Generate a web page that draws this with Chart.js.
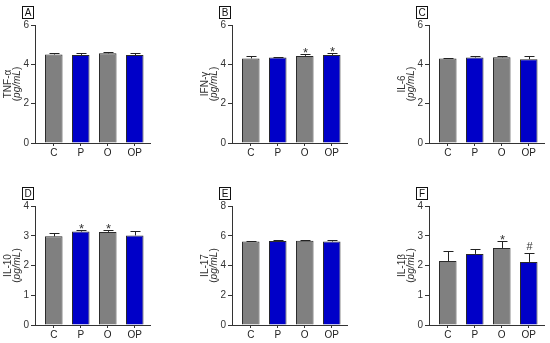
<!DOCTYPE html>
<html>
<head>
<meta charset="utf-8">
<script src="https://cdn.jsdelivr.net/npm/chart.js@4"></script>
<style>
  html, body { margin: 0; padding: 0; background: #fff; }
  body { width: 550px; height: 343px; position: relative; overflow: hidden; }
  canvas { position: absolute; }
</style>
</head>
<body>
<script>
// groupes
const categories = ['C', 'P', 'O', 'OP'];
const barColors = ['#808080', '#0000c8', '#808080', '#0000c8'];

// valeurs (moyenne + erreur)
const tnfMean = [4.50, 4.48, 4.56, 4.47];
const tnfErr = [0.06, 0.08, 0.09, 0.13];
const tnfMarks = ['', '', '', ''];

const ifnMean = [4.30, 4.35, 4.43, 4.48];
const ifnErr = [0.12, 0.04, 0.10, 0.08];
const ifnMarks = ['', '', '*', '*'];

const il6Mean = [4.30, 4.35, 4.36, 4.26];
const il6Err = [0.04, 0.06, 0.07, 0.15];
const il6Marks = ['', '', '', ''];

const il10Mean = [2.98, 3.14, 3.13, 3.01];
const il10Err = [0.11, 0.06, 0.05, 0.16];
const il10Marks = ['', '*', '*', ''];

const il17Mean = [5.62, 5.64, 5.67, 5.61];
const il17Err = [0.06, 0.06, 0.06, 0.12];
const il17Marks = ['', '', '', ''];

const il1bMean = [2.15, 2.39, 2.59, 2.12];
const il1bErr = [0.33, 0.18, 0.22, 0.30];
const il1bMarks = ['', '', '*', '#'];

const FONT = "'Liberation Sans', Arial, sans-serif";
const AXIS = '#333';

// position des panneaux
const CANVAS_W = 190;
const Y_W = 45;      // largeur de l'axe y dans le canvas
const AREA_W = 115;  // largeur de la zone de tracé
const rows = [
    { top: 0, height: 170, areaTop: 25, areaBottom: 143 },
    { top: 172, height: 171, areaTop: 206, areaBottom: 325 }
];
const cols = [35, 232, 429];

// barres d'erreur, étoiles, titre d'axe et lettre
const extrasPlugin = {
    id: 'extras',
    afterDatasetsDraw(chart, args, opts) {
        const ctx = chart.ctx;
        const xs = chart.scales.x, ys = chart.scales.y;
        ctx.save();
        ctx.strokeStyle = '#222';
        ctx.lineWidth = 1;
        opts.mean.forEach((m, i) => {
            const x = Math.round(xs.getPixelForValue(i)) + 0.5;
            const yb = ys.getPixelForValue(m);
            const yt = Math.round(ys.getPixelForValue(m + opts.err[i])) + 0.5;
            ctx.beginPath();
            ctx.moveTo(x, yb);
            ctx.lineTo(x, yt);
            ctx.moveTo(x - 5, yt);
            ctx.lineTo(x + 5, yt);
            ctx.stroke();
            if (opts.marks[i]) {
                ctx.fillStyle = '#333';
                ctx.font = (opts.marks[i] === '*' ? '13px ' : '11px ') + FONT;
                ctx.textAlign = 'center';
                ctx.textBaseline = 'bottom';
                ctx.fillText(opts.marks[i], x, yt + (opts.marks[i] === '*' ? 5 : -1));
            }
        });
        ctx.restore();
    },
    afterDraw(chart, args, opts) {
        const ctx = chart.ctx;
        const area = chart.chartArea;
        const midY = (area.top + area.bottom) / 2;
        ctx.save();
        ctx.fillStyle = '#333';
        // titre en deux lignes, tourné
        ctx.translate(area.left - 27, midY);
        ctx.rotate(-Math.PI / 2);
        ctx.textBaseline = 'middle';
        ctx.textAlign = 'center';
        ctx.font = '10px ' + FONT;
        ctx.fillText(opts.title, 0, 0);
        const normal = '10px ' + FONT, italic = 'italic 10px ' + FONT;
        ctx.font = normal;
        const wp = ctx.measureText('(').width;
        const wc = ctx.measureText(')').width;
        ctx.font = italic;
        const wu = ctx.measureText('pg/mL').width;
        let x0 = -(wp + wu + wc) / 2;
        ctx.textAlign = 'left';
        ctx.font = normal;
        ctx.fillText('(', x0, 9);
        ctx.font = italic;
        ctx.fillText('pg/mL', x0 + wp, 9);
        ctx.font = normal;
        ctx.fillText(')', x0 + wp + wu, 9);
        ctx.restore();

        // lettre du panneau
        ctx.save();
        const bx = area.left - 12.5, by = area.top - 18.5;
        ctx.strokeStyle = '#111';
        ctx.lineWidth = 1;
        ctx.strokeRect(bx, by, 11, 12);
        ctx.fillStyle = '#111';
        ctx.font = '10px ' + FONT;
        ctx.textAlign = 'center';
        ctx.textBaseline = 'middle';
        ctx.fillText(opts.letter, bx + 5.5, by + 6.5);
        ctx.restore();
    }
};

function makePanel(p) {
    const row = rows[p.row];
    const axisX = cols[p.col];
    const canvas = document.createElement('canvas');
    canvas.width = CANVAS_W;
    canvas.height = row.height;
    canvas.style.left = (axisX - Y_W) + 'px';
    canvas.style.top = row.top + 'px';
    document.body.appendChild(canvas);

    const xHeight = row.height - (row.areaBottom - row.top);
    // centres des barres à 18.75 px de l'axe, pas de 27 px
    const xMin = -18.75 / 27;
    const xMax = (AREA_W - 18.75) / 27;

    new Chart(canvas, {
        type: 'bar',
        data: {
            datasets: [{
                data: p.mean.map((v, i) => ({ x: i, y: v })),
                backgroundColor: barColors,
                borderColor: '#2a2a2a',
                borderWidth: 1,
                barPercentage: 0.65,
                categoryPercentage: 1
            }]
        },
        options: {
            responsive: false,
            animation: false,
            layout: { padding: { top: row.areaTop - row.top, left: 0, right: CANVAS_W - Y_W - AREA_W, bottom: 0 } },
            plugins: {
                legend: { display: false },
                tooltip: { enabled: false },
                extras: { mean: p.mean, err: p.err, marks: p.marks, title: p.title, letter: p.letter }
            },
            scales: {
                x: {
                    type: 'linear',
                    min: xMin,
                    max: xMax,
                    offset: false,
                    afterBuildTicks: s => { s.ticks = categories.map((c, i) => ({ value: i })); },
                    afterFit: s => { s.height = xHeight; },
                    ticks: {
                        callback: v => categories[v],
                        color: '#222',
                        font: { size: 10, family: FONT },
                        padding: 1,
                        autoSkip: false,
                        maxRotation: 0
                    },
                    grid: { offset: false, drawOnChartArea: false, tickLength: 3, color: AXIS },
                    border: { color: AXIS, width: 1 }
                },
                y: {
                    min: 0,
                    max: p.max,
                    afterFit: s => { s.width = Y_W; },
                    ticks: { stepSize: p.step, color: '#333', font: { size: 10, family: FONT }, padding: 2 },
                    grid: { drawOnChartArea: false, tickLength: 4, color: AXIS },
                    border: { color: AXIS, width: 1 }
                }
            }
        },
        plugins: [extrasPlugin]
    });
}

makePanel({ letter: 'A', title: 'TNF-α', mean: tnfMean, err: tnfErr, marks: tnfMarks, max: 6, step: 2, row: 0, col: 0 });
makePanel({ letter: 'B', title: 'IFN-γ', mean: ifnMean, err: ifnErr, marks: ifnMarks, max: 6, step: 2, row: 0, col: 1 });
makePanel({ letter: 'C', title: 'IL-6', mean: il6Mean, err: il6Err, marks: il6Marks, max: 6, step: 2, row: 0, col: 2 });
makePanel({ letter: 'D', title: 'IL-10', mean: il10Mean, err: il10Err, marks: il10Marks, max: 4, step: 1, row: 1, col: 0 });
makePanel({ letter: 'E', title: 'IL-17', mean: il17Mean, err: il17Err, marks: il17Marks, max: 8, step: 2, row: 1, col: 1 });
makePanel({ letter: 'F', title: 'IL-1β', mean: il1bMean, err: il1bErr, marks: il1bMarks, max: 4, step: 1, row: 1, col: 2 });
</script>
</body>
</html>
